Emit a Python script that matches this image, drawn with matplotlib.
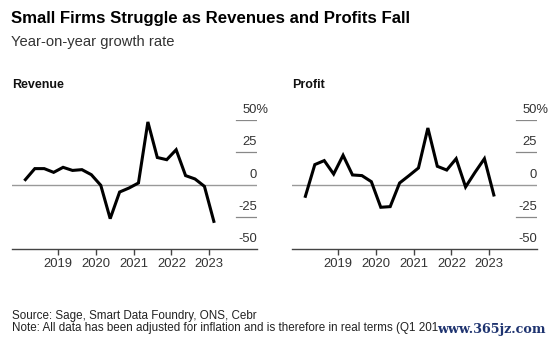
import numpy as np
import matplotlib.pyplot as plt
import matplotlib.transforms as mtransforms

plt.rcParams['font.family'] = ['Liberation Sans', 'DejaVu Sans']

# quarterly year-on-year growth, Q1 2018 .. Q1 2023 (%)
quarters = [f'{y} Q{q}' for y in range(2018, 2024) for q in range(1, 5)][:21]
revenue = [3.9, 12.4, 12.4, 9.5, 13.4, 11.0, 11.6, 7.7, -0.5, -26.3, -5.7,
           -2.6, 1.3, 48.5, 21.0, 19.3, 27.0, 7.0, 4.4, -1.3, -28.4]
profit = [-9.0, 15.5, 18.6, 8.2, 22.7, 7.5, 7.0, 2.3, -17.5, -17.0, 1.3,
          7.0, 12.9, 43.8, 14.2, 11.3, 20.1, -1.8, 9.5, 20.1, -8.0]

year_ticks = [2019, 2020, 2021, 2022, 2023]
y_ticks = [50, 25, 0, -25, -50]

# place each quarter at its mid point on a decimal-year axis
xs = np.array([int(q[:4]) + (int(q[-1]) - 1) / 4 + 0.125 for q in quarters])

W, H = 559, 345
fig = plt.figure(figsize=(W / 100, H / 100), dpi=100)

fig.text(11 / W, 1 - 23.3 / H, 'Small Firms Struggle as Revenues and Profits Fall',
         fontsize=12.1, fontweight='bold', va='baseline', ha='left', color='#000000')
fig.text(11 / W, 1 - 45.6 / H, 'Year-on-year growth rate',
         fontsize=10.6, va='baseline', ha='left', color='#333333')

LABEL_SIZE = 9.4
# width of the hanging percent sign in pixels (Arial-metric '%' is 0.889 em)
PCT_W = 0.889 * LABEL_SIZE * 100 / 72


def panel(left, name, values):
    ax = fig.add_axes([left / W, 1 - 249.3 / H, 245 / W, 129.3 / H])
    ax.set_xlim(2017.77, 2024.27)
    ax.set_ylim(-50, 50)
    for s in ['top', 'right', 'left']:
        ax.spines[s].set_visible(False)
    ax.spines['bottom'].set_color('#444444')
    ax.spines['bottom'].set_linewidth(1)

    ax.set_xticks(year_ticks)
    ax.set_xticklabels([str(y) for y in year_ticks])
    ax.tick_params(axis='x', direction='out', length=4, width=1, color='#444444',
                   labelsize=LABEL_SIZE, labelcolor='#333333', pad=2.5)
    ax.set_yticks([])

    # short gridlines under the value labels, full line at zero
    for v in [50, 25, -25]:
        ax.axhline(v, xmin=0.914, xmax=1.0, color='#888888', lw=0.9)
    ax.axhline(0, color='#999999', lw=1.0, zorder=1)

    base = ax.get_yaxis_transform()
    for v in y_ticks:
        if v == y_ticks[0]:
            # the percent sign hangs past the right edge
            trans = mtransforms.offset_copy(base, fig=fig, x=PCT_W, y=7, units='dots')
            label = f'{v}%'
        else:
            trans = mtransforms.offset_copy(base, fig=fig, y=7, units='dots')
            label = f'{v}'
        ax.text(1.0, v, label, transform=trans, ha='right', va='baseline',
                fontsize=LABEL_SIZE, color='#333333')

    ax.plot(xs, values, color='#000000', lw=2.2, solid_joinstyle='miter', zorder=3)
    fig.text(left / W, 1 - 88.3 / H, name, fontsize=9.0, fontweight='bold',
             va='baseline', ha='left', color='#111111')
    return ax


panel(12, 'Revenue', revenue)
panel(292, 'Profit', profit)

fig.text(12 / W, 1 - 319.4 / H, 'Source: Sage, Smart Data Foundry, ONS, Cebr',
         fontsize=8.4, va='baseline', ha='left', color='#222222')
fig.text(12 / W, 1 - 330.7 / H,
         'Note: All data has been adjusted for inflation and is therefore in real terms (Q1 201',
         fontsize=8.4, va='baseline', ha='left', color='#222222')
fig.text(437 / W, 1 - 333 / H, 'www.365jz.com', family='DejaVu Serif',
         fontsize=9.2, fontweight='bold', va='baseline', ha='left', color='#1f3470')

fig.savefig('out.png', dpi=100)
